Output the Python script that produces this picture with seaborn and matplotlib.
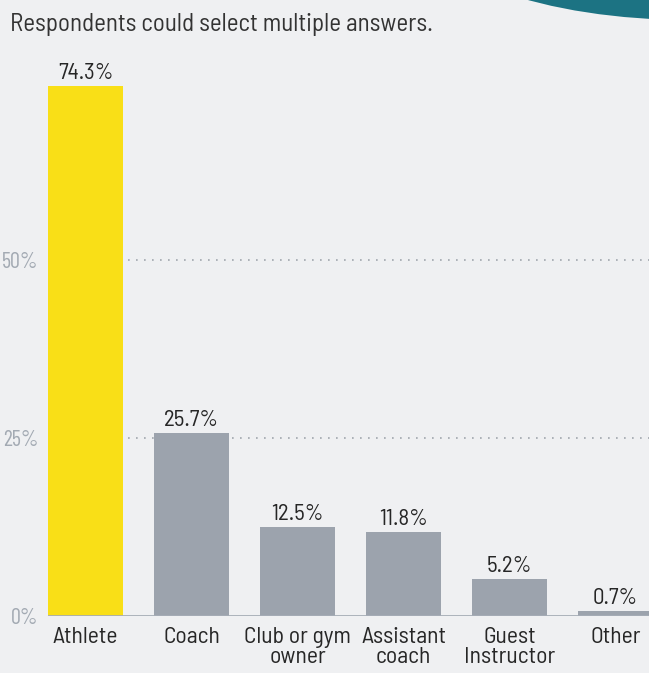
import matplotlib
matplotlib.use("Agg")
import matplotlib.pyplot as plt
from matplotlib.patches import Ellipse
import seaborn as sns
import pandas as pd

categories = ["Athlete", "Coach", "Club or gym\nowner", "Assistant\ncoach", "Guest\nInstructor", "Other"]
shares = [74.3, 25.7, 12.5, 11.8, 5.2, 0.7]
value_labels = ["74.3%", "25.7%", "12.5%", "11.8%", "5.2%", "0.7%"]
yticks = [0, 25, 50]
ytick_labels = ["0%", "25%", "50%"]
subtitle = "Respondents could select multiple answers."

BG = "#eff0f2"
YELLOW = "#f9df17"
GREY = "#9ca3ad"
TICK = "#a3aab3"
TEXT = "#262626"
TEAL = "#1c7383"
FONT = ["Barlow Semi Condensed", "DejaVu Sans"]
TICK_FONT = ["Barlow Condensed", "DejaVu Sans"]

sns.set_theme(style="white")
plt.rcParams["font.family"] = FONT

df = pd.DataFrame({"role": categories, "share": shares})
colors = {c: (YELLOW if i == 0 else GREY) for i, c in enumerate(categories)}

fig = plt.figure(figsize=(6.49, 6.73), dpi=100, facecolor=BG)
ax = fig.add_axes([48 / 649, 1 - 616 / 673, 1 - 48 / 649, (616 - 63) / 673])
ax.set_facecolor(BG)

# dotted reference lines sit behind the bars
for y in (25, 50):
    ax.axhline(y, color="#a0a6ad", lw=1.2, ls=(0, (1, 3.8)), zorder=0)

sns.barplot(data=df, x="role", y="share", hue="role", palette=colors,
            legend=False, width=0.708, saturation=1, linewidth=0,
            ax=ax, zorder=2)

for container, lab in zip(ax.containers, value_labels):
    ax.bar_label(container, labels=[lab], padding=1.5, fontsize=16.5,
                 color=TEXT, family=FONT)

ax.axhline(0, color="#a6adb6", lw=2, zorder=3)
ax.set_xlim(-0.354, 5.316)
ax.set_ylim(0, 77.56)
ax.set_yticks(yticks)
ax.set_yticklabels(ytick_labels, color=TICK, fontsize=16,
                   fontweight="normal", family=TICK_FONT)
ax.set_xlabel("")
ax.set_ylabel("")
ax.tick_params(axis="y", length=0, pad=7)
ax.tick_params(axis="x", length=0, pad=8, labelsize=17, labelcolor=TEXT)
for lbl in ax.get_xticklabels():
    lbl.set_linespacing(0.92)
for s in ax.spines.values():
    s.set_visible(False)
ax.grid(False)

fig.text(10 / 649, 1 - 31 / 673, subtitle, fontsize=18, color="#333333",
         va="baseline", ha="left")

# decorative teal shape in the top-right corner
fig.add_artist(Ellipse((690 / 649, 1 + 80 / 673), width=2 * 270 / 649,
                       height=2 * 100 / 673, transform=fig.transFigure,
                       facecolor=TEAL, edgecolor="none", zorder=5))

fig.savefig("out.png", dpi=100, facecolor=BG)
